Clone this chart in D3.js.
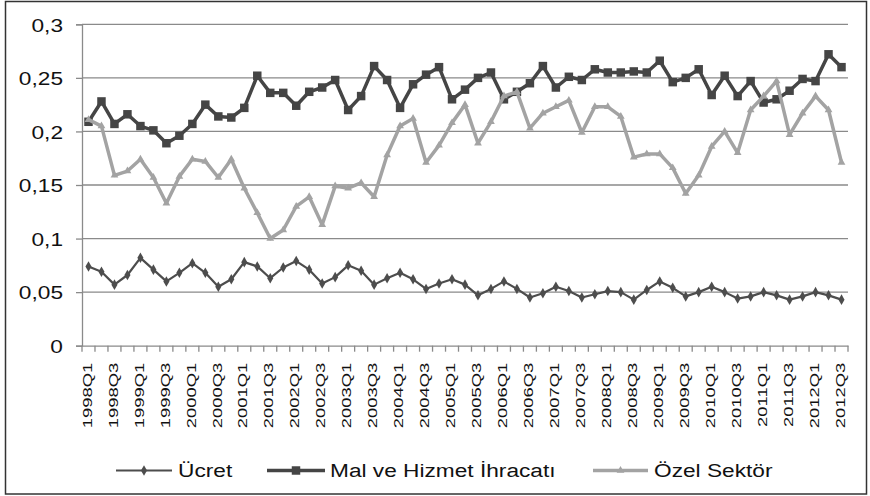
<!DOCTYPE html>
<html><head><meta charset="utf-8">
<script src="https://cdn.jsdelivr.net/npm/d3@7"></script>
<style>body{margin:0;background:#fff}svg{display:block;font-family:"Liberation Sans",Arial,sans-serif}</style>
</head><body><svg id="c" width="870" height="496"></svg>
<script>
const quarters = [];
for (let y = 1998; y <= 2012; y++) for (let q = 1; q <= 4; q++) { if (y === 2012 && q === 4) break; quarters.push(y + "Q" + q); }
const ucret = [0.074,0.069,0.057,0.066,0.082,0.071,0.060,0.068,0.077,0.068,0.055,0.062,0.078,0.074,0.063,0.073,0.079,0.071,0.058,0.064,0.075,0.070,0.057,0.063,0.068,0.062,0.053,0.058,0.062,0.057,0.047,0.053,0.060,0.053,0.045,0.049,0.055,0.051,0.045,0.048,0.051,0.050,0.043,0.052,0.060,0.054,0.046,0.050,0.055,0.050,0.044,0.046,0.050,0.047,0.043,0.046,0.050,0.047,0.043];
const malHizmet = [0.209,0.228,0.207,0.216,0.205,0.201,0.189,0.196,0.207,0.225,0.214,0.213,0.222,0.252,0.236,0.236,0.224,0.237,0.241,0.248,0.220,0.233,0.261,0.248,0.222,0.244,0.253,0.260,0.230,0.239,0.250,0.255,0.230,0.237,0.245,0.261,0.241,0.251,0.248,0.258,0.255,0.255,0.256,0.255,0.266,0.246,0.250,0.258,0.234,0.252,0.233,0.247,0.227,0.230,0.238,0.249,0.247,0.272,0.260];
const ozel = [0.211,0.205,0.159,0.163,0.174,0.157,0.133,0.158,0.174,0.172,0.157,0.174,0.147,0.124,0.100,0.108,0.130,0.139,0.113,0.149,0.147,0.152,0.139,0.178,0.205,0.212,0.171,0.187,0.208,0.225,0.189,0.209,0.233,0.237,0.203,0.217,0.223,0.229,0.199,0.223,0.223,0.214,0.176,0.179,0.179,0.166,0.142,0.159,0.186,0.200,0.180,0.220,0.233,0.247,0.197,0.217,0.233,0.220,0.171];
const yTicks = [0,0.05,0.1,0.15,0.2,0.25,0.3];
const seriesNames = ["Ücret","Mal ve Hizmet İhracatı","Özel Sektör"];

const svg = d3.select("#c");
const L = 82, R = 848, T = 24.3, B = 345.7;
const x = d3.scaleBand().domain(quarters).range([L, R]);
const y = d3.scaleLinear().domain([0, 0.3]).range([B, T]);
const fmt = v => String(v).replace(".", ",");
const FONT = "Liberation Sans, Arial, sans-serif";

svg.append("rect").attr("x",5.5).attr("y",1.5).attr("width",861).attr("height",492.5).attr("fill","none").attr("stroke","#333").attr("stroke-width",1.5);

// gridlines
svg.append("g").selectAll("line").data(yTicks.filter(d=>d>0)).join("line")
  .attr("x1",L).attr("x2",R).attr("y1",d=>y(d)).attr("y2",d=>y(d))
  .attr("stroke","#8a8a8a").attr("stroke-width",1.3);

// y axis
const ya = svg.append("g").attr("transform",`translate(${L},0)`)
  .call(d3.axisLeft(y).tickValues(yTicks).tickFormat(fmt).tickSize(6).tickPadding(13));
ya.select(".domain").attr("stroke","#8a8a8a").attr("stroke-width",1.3);
ya.selectAll(".tick line").attr("stroke","#8a8a8a").attr("stroke-width",1.3);
ya.selectAll(".tick text").attr("font-size",18.6).attr("fill","#111").attr("font-family",FONT)
  .attr("x",0).attr("dy","0.36em").attr("transform","translate(-19,0) scale(1.22,1)");

// x axis
const xa = svg.append("g").attr("transform",`translate(0,${B})`)
  .call(d3.axisBottom(x).tickSize(0).tickFormat(d=> (d.endsWith("Q1")||d.endsWith("Q3")) ? d : ""));
xa.select(".domain").attr("stroke","#8a8a8a").attr("stroke-width",1.3);
xa.selectAll(".tick text").attr("font-size",13).attr("fill","#111").attr("font-family",FONT)
  .attr("x",0).attr("y",0).attr("dy","0.36em").attr("text-anchor","end")
  .attr("transform","translate(-1.5,17) rotate(-90) scale(1.42,1)");
// boundary ticks
const bounds = quarters.map(q=>x(q)).concat([R]);
svg.append("g").selectAll("line").data(bounds).join("line")
  .attr("x1",d=>d).attr("x2",d=>d).attr("y1",B).attr("y2",B+6)
  .attr("stroke","#8a8a8a").attr("stroke-width",1.3);

const cx = q => x(q) + x.bandwidth()/2;
const line = d3.line().x((d,i)=>cx(quarters[i])).y(d=>y(d));

const sq = d3.symbol().type(d3.symbolSquare).size(72);
const tri = d3.symbol().type(d3.symbolTriangle).size(26);
const dia = d3.symbol().type(d3.symbolDiamond).size(32);

function draw(data, color, width, sym) {
  svg.append("path").datum(data).attr("d",line).attr("fill","none").attr("stroke",color).attr("stroke-width",width).attr("stroke-linejoin","round");
  svg.append("g").selectAll("path").data(data).join("path")
    .attr("d",sym).attr("transform",(d,i)=>`translate(${cx(quarters[i])},${y(d)})`).attr("fill",color);
}
draw(ucret, "#4d4d4d", 2.2, dia);
draw(malHizmet, "#454545", 3.5, sq);
draw(ozel, "#a3a3a3", 3.5, tri);

// legend
const leg = [
  {name:seriesNames[0], color:"#4d4d4d", w:2.2, sym:dia, x0:116, x1:172, tx:178},
  {name:seriesNames[1], color:"#454545", w:3.5, sym:sq, x0:267, x1:325, tx:330},
  {name:seriesNames[2], color:"#a3a3a3", w:3.5, sym:tri, x0:593, x1:648, tx:654}
];
const ly = 470.5;
leg.forEach(l=>{
  svg.append("line").attr("x1",l.x0).attr("x2",l.x1).attr("y1",ly).attr("y2",ly).attr("stroke",l.color).attr("stroke-width",l.w);
  svg.append("path").attr("d",l.sym).attr("transform",`translate(${(l.x0+l.x1)/2},${ly})`).attr("fill",l.color);
  svg.append("text").attr("x",0).attr("y",0).attr("dy","0.36em").attr("font-size",18.6).attr("fill","#111")
    .attr("font-family",FONT).attr("transform",`translate(${l.tx},${ly}) scale(1.22,1)`).text(l.name);
});
</script></body></html>
